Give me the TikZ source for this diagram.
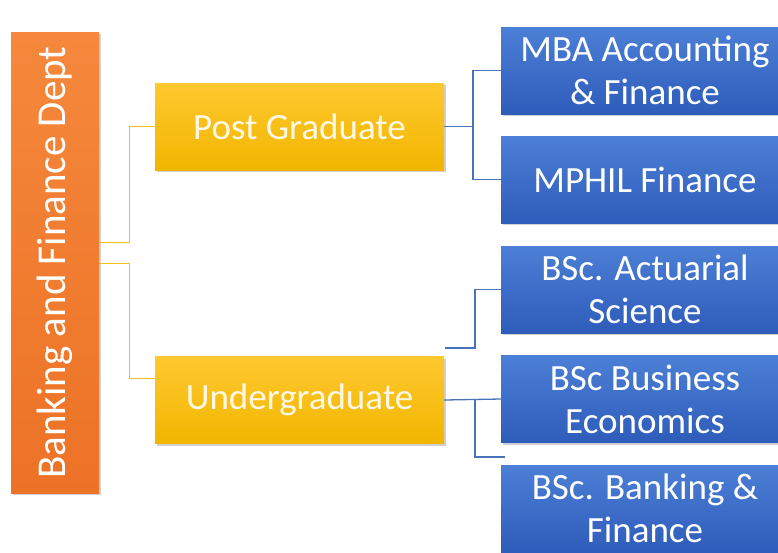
\documentclass[tikz,border=0pt]{standalone}
\usepackage{fontspec}
\setmainfont{Carlito}
\usetikzlibrary{shadows}
\definecolor{orTop}{HTML}{F5883C}
\definecolor{orBot}{HTML}{EC7226}
\definecolor{yeTop}{HTML}{FFC830}
\definecolor{yeBot}{HTML}{F1B600}
\definecolor{blTop}{HTML}{4C7FD6}
\definecolor{blBot}{HTML}{2E5CBA}
\definecolor{yeLine}{HTML}{F2C21A}
\definecolor{blLine}{HTML}{4A72B8}
\definecolor{txtWarm}{HTML}{FFF8E4}
\tikzset{
  boxbase/.style={inner sep=0pt, align=center, text=white,
    drop shadow={shadow xshift=1.5pt, shadow yshift=-2pt, opacity=0.3, fill=black!60}},
  rootbox/.style={boxbase, minimum width=88pt, minimum height=461pt,
    top color=orTop, bottom color=orBot},
  levelbox/.style={boxbase, minimum width=289pt, minimum height=87pt,
    top color=yeTop, bottom color=yeBot, text=txtWarm,
    font=\fontsize{37}{43}\selectfont},
  leafbox/.style={boxbase, minimum width=288pt, minimum height=87pt,
    top color=blTop, bottom color=blBot,
    font=\fontsize{37}{43}\selectfont},
  yelink/.style={draw=yeLine, line width=1pt},
  bllink/.style={draw=blLine, line width=1.3pt},
}
\begin{document}
\begin{tikzpicture}[x=1pt,y=-1pt]
\useasboundingbox (0,0) rectangle (778,552);
\clip (0,0) rectangle (778,552);
\fill[white] (0,0) rectangle (778,552);

% department column
\node[rootbox] (org) at (55,262.5) {};
\node[rotate=90, text=white, font=\fontsize{41}{48}\selectfont] (orgtxt) at (org.center) {Banking and Finance Dept};

% study levels
\node[levelbox] (pg) at (299.5,126.5) {Post Graduate};
\node[levelbox] (ug) at (299.5,400) {Undergraduate};

% programmes
\node[leafbox] (mba) at (645,70.5) {MBA Accounting\\\& Finance};
\node[leafbox] (mphil) at (645,179.5) {MPHIL Finance};
\node[leafbox] (act) at (645,289.5) {BSc. Actuarial\\Science};
\node[leafbox] (bus) at (645,399) {BSc Business\\Economics};
\node[leafbox] (bank) at (645,508.5) {BSc. Banking \&\\Finance};

% department to levels
\coordinate (o1) at ([yshift=20.5pt]org.east);
\coordinate (o2) at ([yshift=-0.5pt]org.east);
\draw[yelink] (o1) -- (129,242) |- (pg.west);
\draw[yelink] (o2) -- (129,263) |- ([yshift=22pt]ug.west);

% post graduate programmes
\draw[bllink] (pg.east) -- (473,126.5);
\draw[bllink] (mba.west) -| (473,126.5) |- (mphil.west);

% undergraduate programmes
\coordinate (u1) at (445,348);
\coordinate (u2) at (505,457);
\draw[bllink] (u1) -- (475,348) |- (act.west);
\draw[bllink] (ug.east) -- (bus.west);
\draw[bllink] (475,400) |- (u2);
\end{tikzpicture}
\end{document}
